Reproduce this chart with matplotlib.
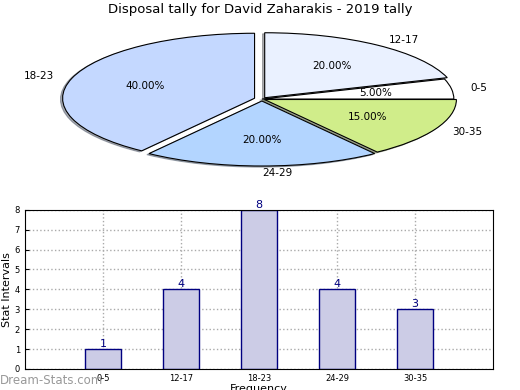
import matplotlib
matplotlib.use("Agg")
import matplotlib.pyplot as plt

categories = ["0-5", "12-17", "18-23", "24-29", "30-35"]
counts = [1, 4, 8, 4, 3]
pie_colors = ["#ffffff", "#eaf1ff", "#c4d8ff", "#b3d5ff", "#d0ed8a"]
explode = [0.0, 0.025, 0.04, 0.03, 0.015]
title = "Disposal tally for David Zaharakis - 2019 tally"

fig = plt.figure(figsize=(5.2, 3.9), dpi=100)

# pie on top
ax1 = fig.add_axes([0.0606, 0.546, 0.886, 0.4])
wedges, texts, autotexts = ax1.pie(counts, labels=categories, colors=pie_colors,
                                   explode=explode, startangle=0,
                                   shadow={"ox": -0.008, "oy": -0.012, "shade": 0.6},
                                   autopct="%.2f%%", pctdistance=0.6, labeldistance=1.1,
                                   wedgeprops={"edgecolor": "black", "linewidth": 0.8},
                                   textprops={"fontsize": 7.5})
ax1.set_aspect("auto")
ax1.set_xlim(-1.2, 1.2)
ax1.set_ylim(-1.2, 1.2)
ax1.axis("off")
fig.text(0.5, 0.975, title, ha="center", va="center", fontsize=9.5)

# bars below
ax2 = fig.add_axes([0.048, 0.054, 0.9, 0.408])
pos = list(range(len(categories)))
bars = ax2.bar(pos, counts, width=0.46, color="#ccccE6", edgecolor="#000080",
               linewidth=1.0, zorder=2)
for x, v in zip(pos, counts):
    ax2.text(x, v, str(v), ha="center", va="bottom", color="#000080", fontsize=8)
ax2.set_xlim(-1, 5)
ax2.set_ylim(0, 8)
ax2.set_xticks(pos)
ax2.set_xticklabels(categories)
ax2.set_yticks(range(9))
ax2.tick_params(labelsize=6, direction="in", length=3)
ax2.grid(True, linestyle=":", color="#aaaaaa", linewidth=1.0, zorder=0)
ax2.set_axisbelow(True)
ax2.set_ylabel("Stat Intervals", fontsize=8, labelpad=2)
ax2.set_xlabel("Frequency", fontsize=8, labelpad=1)

fig.text(0.0, 0.025, "Dream-Stats.com", color="#999999", fontsize=8.5, ha="left", va="center")

fig.savefig("out.png", dpi=100)
